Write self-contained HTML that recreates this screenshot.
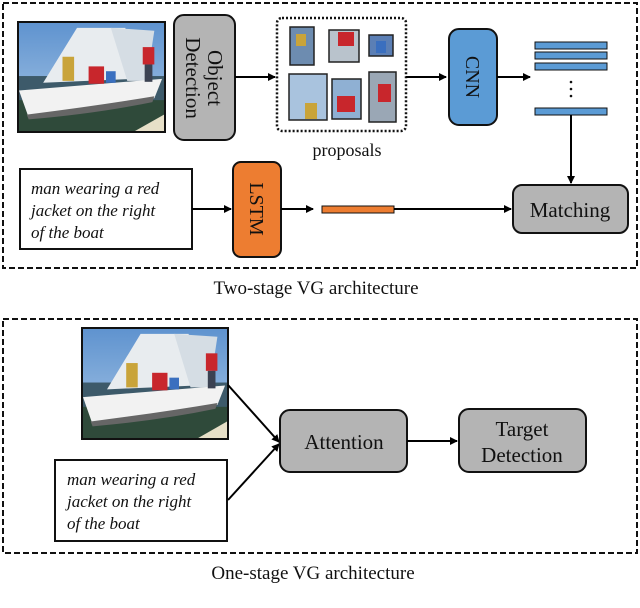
<!DOCTYPE html>
<html><head><meta charset="utf-8"><style>
html,body{margin:0;padding:0;background:#fff;}
svg{display:block;}
text{font-family:"Liberation Serif",serif;fill:#111;}
</style></head><body>
<svg width="640" height="608" viewBox="0 0 640 608" xmlns="http://www.w3.org/2000/svg">
<defs>
<marker id="ah" markerWidth="8" markerHeight="8" refX="7" refY="4" orient="auto" markerUnits="userSpaceOnUse">
<path d="M0,0 L8,4 L0,8 Z" fill="#000"/></marker>
<linearGradient id="sky" x1="0" y1="0" x2="0" y2="1"><stop offset="0" stop-color="#5f93cf"/><stop offset="1" stop-color="#a9c7e6"/></linearGradient>
<symbol id="photo" viewBox="0 0 150 112" preserveAspectRatio="none">
<rect width="150" height="112" fill="url(#sky)"/>
<rect y="55" width="150" height="57" fill="#3d5a6a"/>
<rect y="80" width="150" height="32" fill="#2f4a3a"/>
<path d="M25,62 L60,5 L110,5 L118,58 Z" fill="#e8ecef"/>
<path d="M95,5 L140,8 L132,60 L112,60 Z" fill="#d5dde4"/>
<path d="M0,70 L148,58 L140,78 Q80,90 10,98 Z" fill="#f2f2f2"/>
<path d="M8,95 Q80,86 140,76 L138,82 Q80,94 10,100 Z" fill="#666"/>
<rect x="45" y="35" width="12" height="25" fill="#c9a43a"/>
<rect x="72" y="45" width="16" height="18" fill="#c8262c"/>
<rect x="90" y="50" width="10" height="12" fill="#3a6fbf"/>
<rect x="128" y="25" width="12" height="18" fill="#c8262c"/>
<rect x="130" y="43" width="8" height="18" fill="#3b4252"/>
<path d="M120,112 L150,95 L150,112 Z" fill="#e7e0c8"/>
</symbol>
</defs>

<rect x="3" y="3" width="634" height="265" fill="none" stroke="#111" stroke-width="2" stroke-dasharray="6,3"/>
<rect x="18" y="22" width="147" height="110" fill="none" stroke="#111" stroke-width="2"/>
<use href="#photo" x="19" y="23" width="145" height="108"/>

<rect x="174" y="15" width="61" height="125" rx="10" fill="#b4b4b4" stroke="#111" stroke-width="2"/>
<text transform="translate(204,78) rotate(90)" font-size="21" text-anchor="middle"><tspan x="0" dy="-4">Object</tspan><tspan x="0" dy="22">Detection</tspan></text>
<line x1="235" y1="77" x2="275" y2="77" stroke="#000" stroke-width="2" marker-end="url(#ah)"/>

<rect x="277" y="18" width="129" height="113" rx="5" fill="none" stroke="#111" stroke-width="2.5" stroke-dasharray="2,2"/>
<g stroke="#222" stroke-width="1.5">
<rect x="290" y="27" width="24" height="38" fill="#6d8cb0"/>
<rect x="329" y="30" width="30" height="32" fill="#b9c3cc"/>
<rect x="369" y="35" width="24" height="21" fill="#5b7fb5"/>
<rect x="289" y="74" width="38" height="46" fill="#a9c3de"/>
<rect x="332" y="79" width="29" height="40" fill="#8fb0d3"/>
<rect x="369" y="72" width="27" height="50" fill="#9aa7b5"/>
</g>
<g stroke="none">
<rect x="296" y="34" width="10" height="12" fill="#c9a43a"/>
<rect x="338" y="32" width="16" height="14" fill="#c8262c"/>
<rect x="376" y="41" width="10" height="12" fill="#3a6fbf"/>
<rect x="305" y="103" width="12" height="16" fill="#c9a43a"/>
<rect x="337" y="96" width="18" height="16" fill="#c8262c"/>
<rect x="378" y="84" width="13" height="18" fill="#c8262c"/>
</g>
<text x="347" y="156" font-size="18" text-anchor="middle">proposals</text>
<line x1="406" y1="77" x2="446" y2="77" stroke="#000" stroke-width="2" marker-end="url(#ah)"/>

<rect x="449" y="29" width="48" height="96" rx="10" fill="#5b9bd5" stroke="#111" stroke-width="2"/>
<text transform="translate(473,77) rotate(90)" font-size="20" text-anchor="middle" dy="7">CNN</text>
<line x1="497" y1="77" x2="530" y2="77" stroke="#000" stroke-width="2" marker-end="url(#ah)"/>

<g fill="#5b9bd5" stroke="#111" stroke-width="1">
<rect x="535" y="42" width="72" height="7"/>
<rect x="535" y="52" width="72" height="7"/>
<rect x="535" y="63" width="72" height="7"/>
<rect x="535" y="108" width="72" height="7"/>
</g>
<circle cx="571" cy="82" r="1.3" fill="#111"/><circle cx="571" cy="89" r="1.3" fill="#111"/><circle cx="571" cy="96" r="1.3" fill="#111"/>
<line x1="571" y1="115" x2="571" y2="183" stroke="#000" stroke-width="2" marker-end="url(#ah)"/>

<rect x="513" y="185" width="115" height="48" rx="9" fill="#b4b4b4" stroke="#111" stroke-width="2"/>
<text x="570" y="217" font-size="21" text-anchor="middle">Matching</text>

<rect x="20" y="169" width="172" height="80" fill="#fff" stroke="#111" stroke-width="2"/>
<g font-size="17" font-style="italic"><text x="31" y="194">man wearing a red</text><text x="31" y="216">jacket on the right</text><text x="31" y="238">of the boat</text></g>
<line x1="192" y1="209" x2="231" y2="209" stroke="#000" stroke-width="2" marker-end="url(#ah)"/>
<rect x="233" y="162" width="48" height="95" rx="8" fill="#ed7d31" stroke="#111" stroke-width="2"/>
<text transform="translate(257,209) rotate(90)" font-size="20" text-anchor="middle" dy="7">LSTM</text>
<line x1="281" y1="209" x2="313" y2="209" stroke="#000" stroke-width="2" marker-end="url(#ah)"/>
<rect x="322" y="206" width="72" height="7" fill="#ed7d31" stroke="#111" stroke-width="1"/>
<line x1="394" y1="209" x2="511" y2="209" stroke="#000" stroke-width="2" marker-end="url(#ah)"/>

<text x="316" y="294" font-size="19" text-anchor="middle">Two-stage VG architecture</text>

<rect x="3" y="319" width="634" height="234" fill="none" stroke="#111" stroke-width="2" stroke-dasharray="6,3"/>
<rect x="82" y="328" width="146" height="111" fill="none" stroke="#111" stroke-width="2"/>
<use href="#photo" x="83" y="329" width="144" height="109"/>
<rect x="55" y="460" width="172" height="81" fill="#fff" stroke="#111" stroke-width="2"/>
<g font-size="17" font-style="italic"><text x="67" y="485">man wearing a red</text><text x="67" y="507">jacket on the right</text><text x="67" y="529">of the boat</text></g>
<line x1="228" y1="385" x2="279" y2="442" stroke="#000" stroke-width="2" marker-end="url(#ah)"/>
<line x1="228" y1="500" x2="279" y2="444" stroke="#000" stroke-width="2" marker-end="url(#ah)"/>
<rect x="280" y="410" width="127" height="62" rx="10" fill="#b4b4b4" stroke="#111" stroke-width="2"/>
<text x="344" y="449" font-size="21" text-anchor="middle">Attention</text>
<line x1="407" y1="441" x2="457" y2="441" stroke="#000" stroke-width="2" marker-end="url(#ah)"/>
<rect x="459" y="409" width="127" height="63" rx="10" fill="#b4b4b4" stroke="#111" stroke-width="2"/>
<text x="522" y="436" font-size="21" text-anchor="middle">Target</text>
<text x="522" y="462" font-size="21" text-anchor="middle">Detection</text>

<text x="313" y="579" font-size="19" text-anchor="middle">One-stage VG architecture</text>
</svg>
</body></html>
